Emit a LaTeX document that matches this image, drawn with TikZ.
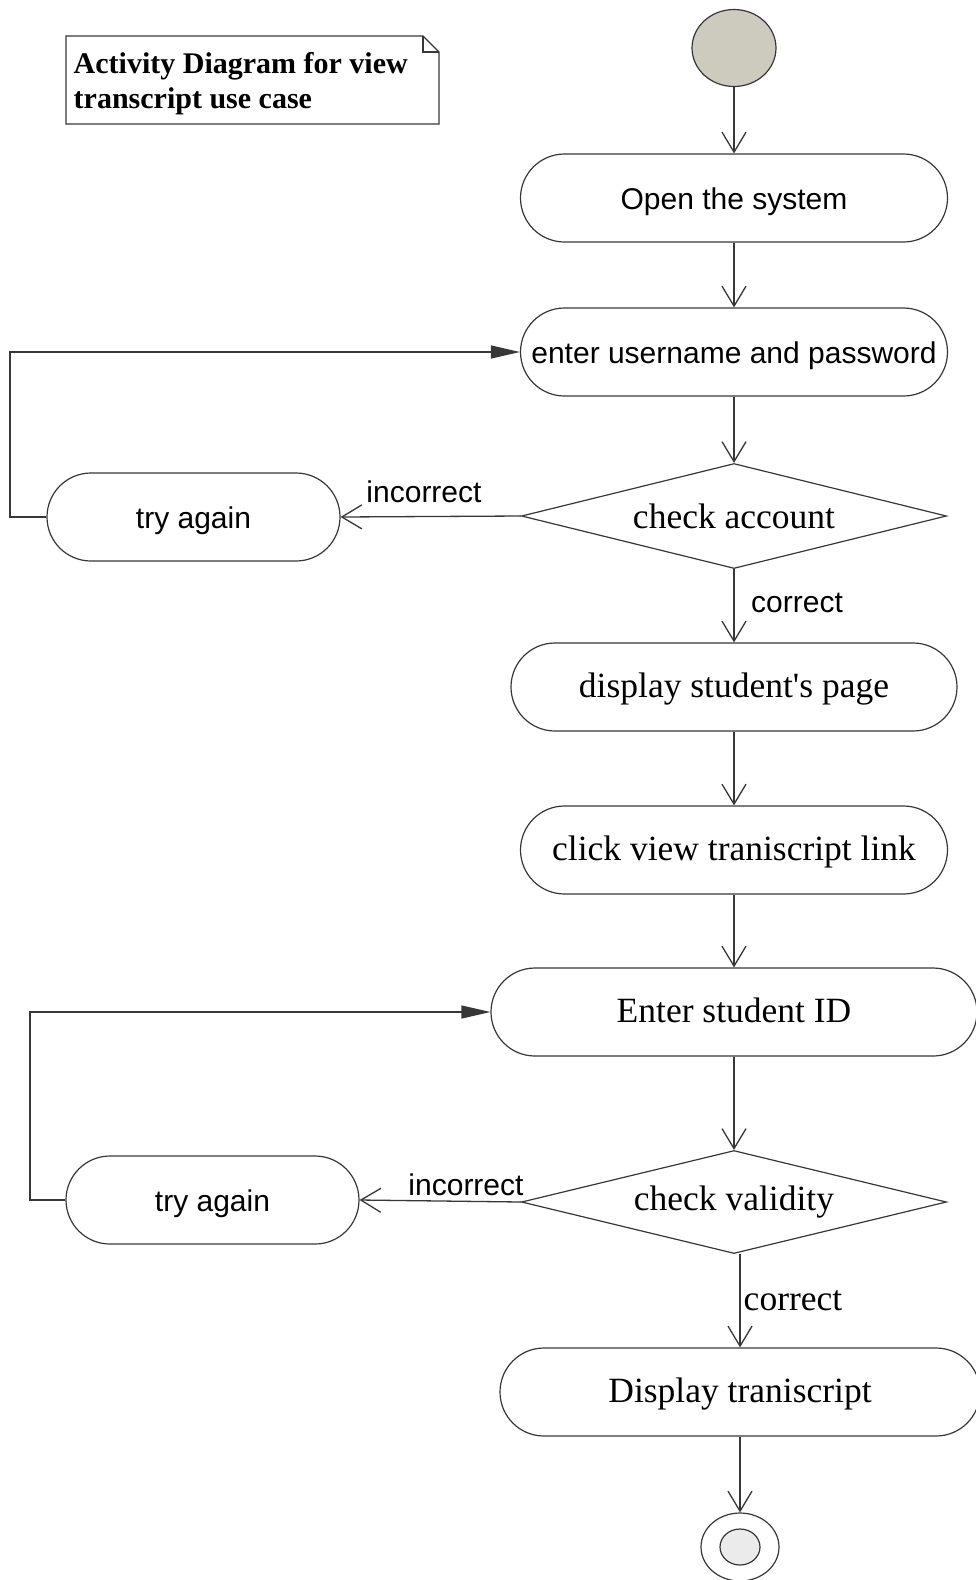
\documentclass[tikz,border=0pt]{standalone}
\usepackage{fontspec}
\setmainfont{Liberation Serif}
\newfontfamily\arialf{Liberation Sans}
\usetikzlibrary{shapes.geometric,arrows.meta}
\definecolor{linec}{RGB}{55,55,55}
\definecolor{startc}{RGB}{205,203,190}
\definecolor{endc}{RGB}{235,235,235}
\begin{document}
\begin{tikzpicture}[x=1pt,y=-1pt,
  act/.style={draw=linec, line width=1.2pt, rounded corners=44pt, minimum height=88pt, inner sep=0pt},
  sans/.style={font=\arialf\fontsize{30}{36}\selectfont},
  serif/.style={font=\fontsize{35.5}{42}\selectfont},
  sansact/.style={act, sans, text height=28pt, text depth=6pt},
  serifact/.style={act, serif, text height=30pt, text depth=10pt},
  dec/.style={draw=linec, line width=1.2pt, diamond, aspect=4, minimum width=425pt, minimum height=105pt, inner sep=0pt},
  flow/.style={draw=linec, line width=1.3pt, -{Straight Barb[length=20pt,width=24pt,line width=1.3pt]}},
  loopflow/.style={draw=linec, line width=1.3pt, -{Triangle[length=29pt,width=13pt]}},
  notebox/.style={draw=linec, line width=1.2pt}
]
\useasboundingbox (0,0) rectangle (976,1580);
% note
\draw[notebox] (66,36) -- (423,36) -- (439,52) -- (439,124) -- (66,124) -- cycle;
\draw[notebox] (423,36) -- (423,52) -- (439,52);
\node[anchor=west, align=left, font=\bfseries\fontsize{30}{35}\selectfont, inner sep=0pt] (note) at (73.5,84) {Activity Diagram for view\\transcript use case};
% nodes
\node[draw=linec, fill=startc, ellipse, minimum width=84pt, minimum height=77pt, inner sep=0pt, line width=1.2pt] (start) at (734,48) {};
\node[sansact, minimum width=427pt] (open) at (734,198) {Open the system};
\node[sansact, minimum width=427pt] (enter) at (734,352) {enter username and password};
\node[dec, serif] (chk) at (734,516) {check account};
\node[sansact, minimum width=293pt] (try1) at (193.5,517) {try again};
\node[serifact, minimum width=446pt] (disp) at (734,687) {display student\textquotesingle s page};
\node[serifact, minimum width=427pt] (click) at (734,850) {click view traniscript link};
\node[serifact, minimum width=486pt] (eid) at (734,1012) {Enter student ID};
\node[dec, serif, minimum height=103pt] (cv) at (734,1202) {check validity};
\node[sansact, minimum width=293pt] (try2) at (212.5,1200) {try again};
\node[serifact, minimum width=480pt] (dtr) at (740,1392) {Display traniscript};
\node[draw=linec, ellipse, minimum width=78pt, minimum height=68pt, inner sep=0pt, line width=1.2pt] (endo) at (740,1547) {};
\node[draw=linec, fill=endc, ellipse, minimum width=40pt, minimum height=36pt, inner sep=0pt, line width=1.2pt] (endi) at (740,1547) {};
% labels
\node[sans, inner sep=0pt] (inc1) at (424,492) {incorrect};
\node[sans, inner sep=0pt] (cor1) at (797,603) {correct};
\node[sans, inner sep=0pt] (inc2) at (466,1185) {incorrect};
\node[serif, inner sep=0pt] (cor2) at (793,1301) {correct};
% loop corners
\coordinate (l1) at (10,517);
\coordinate (l2) at (30,1200);
% connectors
\draw[flow] (start) -- (open);
\draw[flow] (open) -- (enter);
\draw[flow] (enter) -- (chk);
\draw[flow] (chk) -- (disp);
\draw[flow] (disp) -- (click);
\draw[flow] (click) -- (eid);
\draw[flow] (eid) -- (cv);
\draw[flow] (cv.south -| dtr.north) -- (dtr.north);
\draw[flow] (dtr) -- (endo);
\draw[flow] (chk.west) -- (try1.east);
\draw[flow] (cv.west) -- (try2.east);
\draw[loopflow] (try1.west) -- (l1) |- (enter.west);
\draw[loopflow] (try2.west) -- (l2) |- (eid.west);
\end{tikzpicture}
\end{document}
